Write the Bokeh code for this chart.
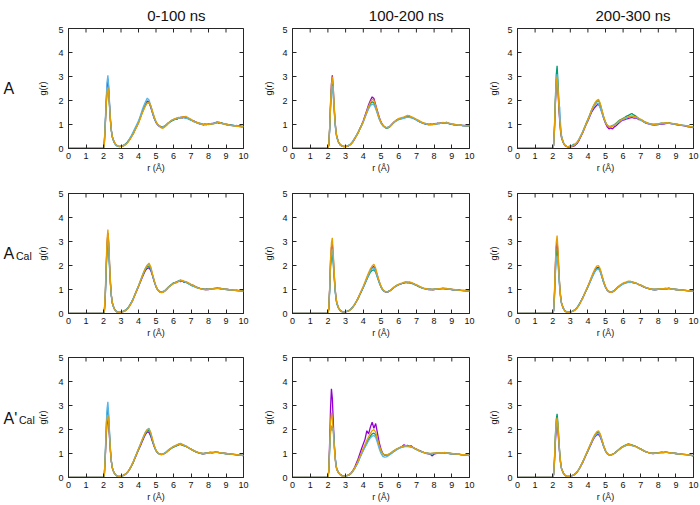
import math
from bokeh.plotting import figure
from bokeh.layouts import gridplot
from bokeh.models import Range1d, FixedTicker
from bokeh.core.properties import value
from bokeh.embed import file_html
from bokeh.resources import INLINE

# ---------------- data ----------------
R = [0.0, 1.95, 2.0, 2.05, 2.1, 2.15, 2.2, 2.25, 2.3, 2.35, 2.4, 2.45, 2.5, 2.6, 2.7, 2.8, 2.9, 3.0,
     3.1, 3.2, 3.3, 3.4, 3.5, 3.6, 3.7, 3.8, 3.9, 4.0,
     4.1, 4.2, 4.3, 4.4, 4.5, 4.6, 4.7, 4.8, 4.9, 5.0,
     5.1, 5.2, 5.3, 5.4, 5.5, 5.6, 5.7, 5.8, 5.9, 6.0,
     6.1, 6.2, 6.3, 6.4, 6.5, 6.6, 6.7, 6.8, 6.9, 7.0,
     7.1, 7.2, 7.3, 7.4, 7.5, 7.6, 7.7, 7.8, 7.9, 8.0,
     8.1, 8.2, 8.3, 8.4, 8.5, 8.6, 8.7, 8.8, 8.9, 9.0,
     9.1, 9.2, 9.3, 9.4, 9.5, 9.6, 9.7, 9.8, 9.9, 10.0]

# Row A, 0-100 ns
A_0_100_purple = [0, 0, 0, 0.25, 0.95, 1.85, 2.55, 2.9, 2.45, 1.75, 1.15, 0.75, 0.5, 0.28, 0.16, 0.1, 0.08, 0.09,
                  0.1, 0.14, 0.2, 0.3, 0.38, 0.5, 0.62, 0.78, 0.92, 1.08,
                  1.3, 1.5, 1.68, 1.82, 1.98, 1.95, 1.72, 1.48, 1.25, 1.08,
                  0.98, 0.92, 0.88, 0.9, 0.93, 0.98, 1.05, 1.12, 1.15, 1.2,
                  1.24, 1.22, 1.28, 1.3, 1.27, 1.32, 1.28, 1.26, 1.22, 1.2,
                  1.15, 1.14, 1.08, 1.07, 1.02, 1.04, 0.98, 1.02, 1.0, 1.03,
                  1.02, 1.05, 1.04, 1.08, 1.1, 1.06, 1.08, 1.04, 1.03, 1.0,
                  0.99, 0.97, 0.98, 0.95, 0.93, 0.96, 0.92, 0.94, 0.9, 0.92]
A_0_100_green = [0, 0, 0, 0.3, 1.0, 1.8, 2.35, 2.6, 2.3, 1.7, 1.12, 0.72, 0.48, 0.26, 0.15, 0.1, 0.09, 0.1,
                 0.12, 0.15, 0.22, 0.28, 0.4, 0.52, 0.65, 0.8, 0.95, 1.1,
                 1.28, 1.48, 1.65, 1.8, 1.92, 1.9, 1.76, 1.52, 1.28, 1.1,
                 1.0, 0.94, 0.9, 0.88, 0.92, 1.0, 1.06, 1.1, 1.16, 1.18,
                 1.22, 1.25, 1.27, 1.28, 1.3, 1.29, 1.3, 1.25, 1.24, 1.18,
                 1.16, 1.12, 1.1, 1.05, 1.06, 1.02, 1.0, 1.01, 0.99, 1.02,
                 1.03, 1.02, 1.06, 1.05, 1.08, 1.09, 1.05, 1.06, 1.02, 1.01,
                 1.0, 0.98, 0.96, 0.97, 0.95, 0.94, 0.95, 0.92, 0.93, 0.91]
A_0_100_cyan = [0, 0, 0, 0.35, 1.1, 2.0, 2.75, 3.05, 2.6, 1.85, 1.2, 0.78, 0.5, 0.27, 0.14, 0.1, 0.08, 0.1,
                0.11, 0.16, 0.2, 0.29, 0.42, 0.55, 0.7, 0.85, 1.0, 1.15,
                1.35, 1.58, 1.78, 1.95, 2.1, 2.02, 1.78, 1.5, 1.26, 1.1,
                0.98, 0.93, 0.87, 0.9, 0.95, 1.0, 1.08, 1.1, 1.18, 1.2,
                1.22, 1.27, 1.26, 1.3, 1.32, 1.28, 1.26, 1.27, 1.2, 1.19,
                1.14, 1.1, 1.09, 1.04, 1.05, 1.0, 1.02, 0.99, 1.01, 1.02,
                1.04, 1.03, 1.05, 1.07, 1.12, 1.07, 1.06, 1.03, 1.04, 0.99,
                0.98, 0.97, 0.95, 0.96, 0.92, 0.95, 0.93, 0.9, 0.92, 0.9]
A_0_100_orange = [0, 0, 0, 0.2, 0.9, 1.75, 2.3, 2.55, 2.25, 1.68, 1.12, 0.74, 0.5, 0.3, 0.17, 0.12, 0.1, 0.1,
                  0.1, 0.13, 0.18, 0.26, 0.36, 0.48, 0.6, 0.75, 0.9, 1.05,
                  1.24, 1.45, 1.62, 1.78, 1.9, 1.92, 1.78, 1.55, 1.32, 1.12,
                  1.0, 0.95, 0.86, 0.84, 0.9, 0.96, 1.04, 1.12, 1.18, 1.22,
                  1.25, 1.28, 1.3, 1.28, 1.33, 1.3, 1.34, 1.3, 1.26, 1.22,
                  1.17, 1.12, 1.1, 1.08, 1.04, 1.03, 1.0, 1.0, 1.02, 1.0,
                  1.02, 1.04, 1.03, 1.06, 1.07, 1.1, 1.06, 1.04, 1.02, 1.03,
                  1.0, 0.97, 0.96, 0.94, 0.95, 0.92, 0.93, 0.91, 0.9, 0.9]

# Row A, 100-200 ns
A_100_200_purple = [0, 0, 0, 0.15, 0.85, 1.9, 2.7, 3.05, 2.55, 1.8, 1.18, 0.75, 0.5, 0.27, 0.15, 0.1, 0.08, 0.08,
                    0.09, 0.13, 0.18, 0.27, 0.38, 0.52, 0.66, 0.82, 0.98, 1.16,
                    1.38, 1.6, 1.82, 2.0, 2.15, 2.08, 1.82, 1.55, 1.3, 1.1,
                    0.98, 0.9, 0.86, 0.88, 0.92, 1.0, 1.08, 1.14, 1.2, 1.24,
                    1.26, 1.24, 1.3, 1.32, 1.3, 1.35, 1.3, 1.28, 1.24, 1.2,
                    1.16, 1.1, 1.08, 1.05, 1.02, 1.03, 0.99, 1.02, 1.0, 1.04,
                    1.03, 1.06, 1.04, 1.07, 1.08, 1.05, 1.08, 1.06, 1.02, 1.01,
                    0.99, 1.0, 0.97, 0.96, 0.98, 0.95, 0.96, 0.94, 0.95, 0.93]
A_100_200_green = [0, 0, 0, 0.15, 0.8, 1.75, 2.45, 2.75, 2.35, 1.7, 1.12, 0.72, 0.48, 0.26, 0.15, 0.11, 0.09, 0.1,
                   0.1, 0.14, 0.2, 0.28, 0.4, 0.52, 0.64, 0.8, 0.95, 1.12,
                   1.32, 1.52, 1.72, 1.86, 1.95, 1.9, 1.72, 1.48, 1.25, 1.08,
                   0.96, 0.9, 0.84, 0.86, 0.9, 0.98, 1.06, 1.12, 1.18, 1.2,
                   1.24, 1.26, 1.28, 1.3, 1.33, 1.32, 1.3, 1.27, 1.22, 1.2,
                   1.14, 1.12, 1.08, 1.06, 1.03, 1.02, 1.0, 1.01, 0.99, 1.02,
                   1.04, 1.03, 1.06, 1.05, 1.07, 1.08, 1.06, 1.05, 1.03, 1.02,
                   1.0, 0.98, 0.98, 0.96, 0.97, 0.95, 0.94, 0.95, 0.93, 0.94]
A_100_200_cyan = [0, 0, 0, 0.15, 0.8, 1.7, 2.35, 2.6, 2.25, 1.65, 1.1, 0.7, 0.46, 0.25, 0.14, 0.1, 0.08, 0.09,
                  0.11, 0.14, 0.2, 0.3, 0.42, 0.54, 0.66, 0.8, 0.96, 1.1,
                  1.3, 1.48, 1.65, 1.78, 1.85, 1.82, 1.66, 1.45, 1.22, 1.05,
                  0.95, 0.88, 0.86, 0.9, 0.92, 1.0, 1.05, 1.12, 1.16, 1.22,
                  1.22, 1.27, 1.26, 1.29, 1.31, 1.3, 1.28, 1.28, 1.23, 1.18,
                  1.15, 1.1, 1.09, 1.04, 1.05, 1.0, 1.01, 1.0, 1.02, 1.0,
                  1.05, 1.02, 1.05, 1.06, 1.09, 1.06, 1.1, 1.04, 1.05, 1.0,
                  1.02, 0.98, 0.99, 0.97, 0.96, 0.97, 0.95, 0.94, 0.94, 0.93]
A_100_200_orange = [0, 0, 0, 0.18, 0.9, 1.85, 2.65, 3.0, 2.6, 1.85, 1.2, 0.76, 0.5, 0.28, 0.16, 0.11, 0.09, 0.09,
                    0.1, 0.13, 0.19, 0.27, 0.39, 0.5, 0.63, 0.8, 0.96, 1.13,
                    1.34, 1.55, 1.76, 1.92, 2.05, 2.0, 1.78, 1.52, 1.28, 1.1,
                    0.97, 0.9, 0.87, 0.86, 0.92, 0.98, 1.08, 1.15, 1.2, 1.25,
                    1.27, 1.3, 1.31, 1.35, 1.38, 1.36, 1.33, 1.3, 1.26, 1.22,
                    1.18, 1.14, 1.1, 1.07, 1.05, 1.03, 1.01, 1.0, 1.02, 1.01,
                    1.03, 1.05, 1.06, 1.05, 1.08, 1.07, 1.06, 1.07, 1.04, 1.03,
                    1.01, 0.99, 0.98, 0.97, 0.98, 0.96, 0.95, 0.96, 0.94, 0.95]

# Row A, 200-300 ns
A_200_300_purple = [0, 0, 0, 0.12, 0.75, 1.8, 2.6, 2.9, 2.4, 1.72, 1.12, 0.7, 0.45, 0.24, 0.12, 0.08, 0.06, 0.07,
                    0.08, 0.1, 0.15, 0.22, 0.35, 0.5, 0.65, 0.82, 1.0, 1.15,
                    1.32, 1.5, 1.62, 1.72, 1.8, 1.85, 1.72, 1.5, 1.25, 1.05,
                    0.9, 0.82, 0.86, 0.82, 0.9, 0.95, 1.02, 1.08, 1.15, 1.18,
                    1.2, 1.24, 1.25, 1.28, 1.3, 1.27, 1.28, 1.25, 1.2, 1.2,
                    1.15, 1.1, 1.06, 1.04, 1.02, 1.0, 0.98, 0.97, 0.99, 1.0,
                    1.02, 1.03, 1.02, 1.04, 1.05, 1.06, 1.04, 1.03, 1.02, 1.0,
                    0.98, 0.97, 0.96, 0.95, 0.94, 0.92, 0.9, 0.9, 0.88, 0.87]
A_200_300_green = [0, 0, 0, 0.15, 0.9, 2.05, 3.05, 3.45, 2.8, 1.95, 1.25, 0.78, 0.5, 0.25, 0.13, 0.09, 0.08, 0.1,
                   0.12, 0.18, 0.16, 0.25, 0.38, 0.52, 0.68, 0.86, 1.05, 1.22,
                   1.4, 1.58, 1.75, 1.88, 1.96, 2.0, 1.85, 1.58, 1.3, 1.1,
                   0.96, 0.9, 0.92, 0.95, 0.98, 1.05, 1.12, 1.18, 1.22, 1.26,
                   1.3, 1.35, 1.38, 1.42, 1.46, 1.4, 1.36, 1.3, 1.24, 1.2,
                   1.16, 1.12, 1.08, 1.06, 1.04, 1.02, 1.0, 1.01, 1.02, 1.03,
                   1.05, 1.06, 1.05, 1.07, 1.06, 1.08, 1.05, 1.04, 1.03, 1.01,
                   1.0, 0.98, 0.97, 0.96, 0.95, 0.94, 0.93, 0.91, 0.9, 0.89]
A_200_300_cyan = [0, 0, 0, 0.12, 0.8, 1.9, 2.8, 3.1, 2.5, 1.9, 1.7, 1.0, 0.55, 0.26, 0.13, 0.09, 0.08, 0.1,
                  0.11, 0.14, 0.2, 0.28, 0.4, 0.55, 0.7, 0.86, 1.02, 1.18,
                  1.36, 1.55, 1.7, 1.82, 1.9, 1.86, 1.7, 1.48, 1.26, 1.08,
                  0.97, 0.92, 0.93, 0.96, 1.0, 1.02, 1.08, 1.12, 1.18, 1.2,
                  1.24, 1.26, 1.3, 1.32, 1.34, 1.3, 1.3, 1.27, 1.22, 1.18,
                  1.14, 1.1, 1.07, 1.05, 1.02, 1.02, 1.0, 0.99, 1.0, 1.02,
                  1.04, 1.05, 1.03, 1.06, 1.07, 1.05, 1.06, 1.03, 1.02, 1.02,
                  1.0, 0.98, 0.98, 0.96, 0.96, 0.94, 0.94, 0.92, 0.91, 0.9]
A_200_300_orange = [0, 0, 0, 0.14, 0.85, 1.95, 2.7, 3.0, 2.5, 1.8, 1.18, 0.74, 0.48, 0.25, 0.13, 0.09, 0.08, 0.09,
                    0.1, 0.13, 0.18, 0.26, 0.38, 0.52, 0.67, 0.84, 1.02, 1.2,
                    1.38, 1.58, 1.76, 1.9, 2.0, 2.05, 1.88, 1.6, 1.32, 1.1,
                    0.97, 0.92, 0.9, 0.92, 0.96, 1.02, 1.1, 1.16, 1.2, 1.24,
                    1.28, 1.3, 1.32, 1.35, 1.36, 1.34, 1.32, 1.3, 1.26, 1.22,
                    1.18, 1.12, 1.1, 1.06, 1.04, 1.03, 1.01, 1.0, 1.02, 1.03,
                    1.04, 1.06, 1.07, 1.06, 1.08, 1.07, 1.06, 1.05, 1.03, 1.02,
                    1.01, 0.99, 0.97, 0.96, 0.95, 0.94, 0.92, 0.91, 0.9, 0.88]

# Row A_Cal, 0-100 ns
ACal_0_100_purple = [0, 0, 0, 0.1, 0.7, 1.8, 2.85, 3.35, 2.9, 2.0, 1.25, 0.75, 0.45, 0.22, 0.1, 0.06, 0.05, 0.06,
                     0.08, 0.1, 0.15, 0.22, 0.33, 0.45, 0.6, 0.78, 0.95, 1.12,
                     1.3, 1.48, 1.65, 1.8, 1.88, 1.9, 1.8, 1.58, 1.32, 1.12,
                     0.98, 0.9, 0.88, 0.9, 0.94, 1.0, 1.08, 1.15, 1.2, 1.26,
                     1.28, 1.3, 1.35, 1.33, 1.36, 1.3, 1.32, 1.28, 1.25, 1.2,
                     1.18, 1.14, 1.1, 1.08, 1.05, 1.04, 1.02, 1.0, 1.01, 1.0,
                     1.02, 1.03, 1.04, 1.05, 1.06, 1.04, 1.05, 1.03, 1.02, 1.01,
                     1.0, 0.99, 0.98, 0.97, 0.96, 0.97, 0.95, 0.95, 0.94, 0.93]
ACal_0_100_green = [0, 0, 0, 0.1, 0.65, 1.7, 2.6, 3.0, 2.6, 1.85, 1.18, 0.72, 0.45, 0.22, 0.11, 0.07, 0.05, 0.07,
                    0.09, 0.12, 0.16, 0.24, 0.35, 0.48, 0.62, 0.8, 0.98, 1.15,
                    1.32, 1.52, 1.7, 1.85, 1.95, 1.98, 1.85, 1.6, 1.35, 1.12,
                    0.98, 0.92, 0.9, 0.88, 0.95, 1.02, 1.1, 1.16, 1.22, 1.28,
                    1.3, 1.33, 1.36, 1.38, 1.35, 1.32, 1.3, 1.26, 1.22, 1.18,
                    1.14, 1.12, 1.1, 1.06, 1.05, 1.02, 1.03, 1.0, 1.01, 1.02,
                    1.03, 1.02, 1.05, 1.04, 1.06, 1.05, 1.03, 1.04, 1.02, 1.0,
                    1.0, 0.98, 0.99, 0.97, 0.96, 0.95, 0.96, 0.94, 0.95, 0.93]
ACal_0_100_cyan = [0, 0, 0, 0.12, 0.75, 1.85, 2.8, 3.15, 2.7, 1.9, 1.2, 0.72, 0.44, 0.2, 0.1, 0.06, 0.05, 0.06,
                   0.08, 0.11, 0.16, 0.23, 0.34, 0.47, 0.62, 0.8, 0.98, 1.16,
                   1.35, 1.55, 1.74, 1.9, 2.02, 2.05, 1.9, 1.62, 1.35, 1.12,
                   0.97, 0.9, 0.88, 0.92, 0.95, 1.02, 1.08, 1.15, 1.2, 1.25,
                   1.3, 1.32, 1.35, 1.4, 1.36, 1.34, 1.3, 1.28, 1.22, 1.2,
                   1.15, 1.12, 1.08, 1.07, 1.04, 1.03, 1.0, 1.02, 0.99, 1.01,
                   1.02, 1.04, 1.03, 1.06, 1.05, 1.07, 1.04, 1.03, 1.01, 1.02,
                   0.99, 0.98, 0.97, 0.98, 0.96, 0.95, 0.94, 0.96, 0.93, 0.92]
ACal_0_100_orange = [0, 0, 0, 0.15, 0.85, 2.0, 3.05, 3.5, 3.0, 2.05, 1.28, 0.78, 0.47, 0.22, 0.1, 0.06, 0.05, 0.06,
                     0.07, 0.1, 0.14, 0.21, 0.32, 0.45, 0.6, 0.78, 0.96, 1.14,
                     1.33, 1.52, 1.72, 1.88, 2.0, 2.1, 1.95, 1.65, 1.38, 1.14,
                     0.98, 0.9, 0.87, 0.88, 0.93, 1.0, 1.08, 1.14, 1.2, 1.25,
                     1.28, 1.3, 1.34, 1.36, 1.38, 1.35, 1.33, 1.3, 1.26, 1.22,
                     1.18, 1.14, 1.1, 1.07, 1.05, 1.03, 1.02, 1.0, 1.0, 1.01,
                     1.03, 1.02, 1.04, 1.05, 1.04, 1.06, 1.05, 1.03, 1.02, 1.01,
                     1.0, 0.99, 0.98, 0.97, 0.97, 0.96, 0.95, 0.94, 0.94, 0.93]

# Row A_Cal, 100-200 ns
ACal_100_200_purple = [0, 0, 0, 0.2, 1.05, 2.2, 2.75, 2.9, 2.4, 1.7, 1.1, 0.7, 0.45, 0.24, 0.12, 0.08, 0.06, 0.07,
                       0.09, 0.12, 0.18, 0.26, 0.36, 0.48, 0.62, 0.78, 0.94, 1.1,
                       1.28, 1.46, 1.64, 1.8, 1.92, 1.95, 1.8, 1.56, 1.32, 1.12,
                       0.98, 0.92, 0.88, 0.9, 0.94, 1.0, 1.06, 1.12, 1.16, 1.2,
                       1.22, 1.25, 1.28, 1.3, 1.28, 1.3, 1.27, 1.25, 1.22, 1.18,
                       1.14, 1.1, 1.08, 1.05, 1.04, 1.02, 1.0, 1.01, 0.99, 1.0,
                       1.02, 1.01, 1.03, 1.04, 1.05, 1.03, 1.04, 1.02, 1.01, 1.0,
                       0.99, 0.98, 0.97, 0.98, 0.96, 0.95, 0.96, 0.94, 0.93, 0.93]
ACal_100_200_green = [0, 0, 0, 0.18, 0.95, 1.95, 2.35, 2.45, 2.1, 1.55, 1.02, 0.66, 0.42, 0.22, 0.12, 0.08, 0.07, 0.08,
                      0.1, 0.13, 0.19, 0.27, 0.37, 0.5, 0.62, 0.78, 0.93, 1.08,
                      1.25, 1.42, 1.58, 1.72, 1.8, 1.82, 1.72, 1.5, 1.28, 1.1,
                      0.98, 0.92, 0.9, 0.92, 0.96, 1.0, 1.06, 1.12, 1.18, 1.2,
                      1.24, 1.26, 1.28, 1.3, 1.3, 1.28, 1.26, 1.24, 1.2, 1.17,
                      1.14, 1.1, 1.07, 1.05, 1.03, 1.02, 1.01, 1.0, 1.0, 1.01,
                      1.02, 1.03, 1.02, 1.04, 1.05, 1.04, 1.03, 1.02, 1.02, 1.0,
                      0.99, 0.98, 0.98, 0.97, 0.96, 0.96, 0.95, 0.94, 0.94, 0.93]
ACal_100_200_cyan = [0, 0, 0, 0.2, 1.0, 2.05, 2.55, 2.7, 2.25, 1.62, 1.06, 0.68, 0.44, 0.23, 0.12, 0.08, 0.06, 0.08,
                     0.1, 0.12, 0.18, 0.26, 0.37, 0.5, 0.64, 0.8, 0.95, 1.1,
                     1.27, 1.45, 1.62, 1.78, 1.88, 1.9, 1.76, 1.52, 1.3, 1.1,
                     0.97, 0.92, 0.89, 0.9, 0.95, 1.01, 1.07, 1.12, 1.16, 1.2,
                     1.23, 1.26, 1.3, 1.29, 1.31, 1.28, 1.28, 1.24, 1.2, 1.18,
                     1.15, 1.1, 1.08, 1.04, 1.04, 1.01, 1.0, 1.02, 1.0, 1.01,
                     1.03, 1.02, 1.04, 1.03, 1.06, 1.04, 1.05, 1.02, 1.02, 1.0,
                     0.99, 0.97, 0.98, 0.96, 0.97, 0.95, 0.94, 0.95, 0.93, 0.92]
ACal_100_200_orange = [0, 0, 0, 0.22, 1.1, 2.3, 2.95, 3.15, 2.55, 1.8, 1.14, 0.72, 0.46, 0.24, 0.12, 0.08, 0.07, 0.08,
                       0.09, 0.12, 0.17, 0.25, 0.36, 0.49, 0.63, 0.8, 0.97, 1.14,
                       1.32, 1.52, 1.7, 1.86, 1.98, 2.05, 1.88, 1.6, 1.34, 1.14,
                       1.0, 0.93, 0.9, 0.91, 0.95, 1.0, 1.08, 1.13, 1.18, 1.22,
                       1.25, 1.27, 1.3, 1.33, 1.31, 1.32, 1.3, 1.27, 1.23, 1.2,
                       1.16, 1.12, 1.09, 1.06, 1.05, 1.03, 1.01, 1.0, 1.01, 1.0,
                       1.02, 1.03, 1.04, 1.05, 1.04, 1.06, 1.04, 1.03, 1.02, 1.01,
                       1.0, 0.99, 0.98, 0.97, 0.96, 0.96, 0.95, 0.94, 0.94, 0.93]

# Row A_Cal, 200-300 ns
ACal_200_300_purple = [0, 0, 0, 0.12, 0.8, 1.95, 2.75, 3.0, 2.5, 1.75, 1.12, 0.7, 0.44, 0.22, 0.1, 0.06, 0.05, 0.07,
                       0.09, 0.12, 0.17, 0.25, 0.36, 0.5, 0.64, 0.8, 0.96, 1.12,
                       1.3, 1.48, 1.66, 1.8, 1.9, 1.92, 1.8, 1.55, 1.3, 1.1,
                       0.97, 0.9, 0.88, 0.9, 0.95, 1.02, 1.1, 1.16, 1.2, 1.25,
                       1.28, 1.3, 1.33, 1.32, 1.3, 1.28, 1.27, 1.24, 1.2, 1.17,
                       1.13, 1.1, 1.07, 1.05, 1.02, 1.01, 1.0, 0.99, 1.0, 1.01,
                       1.02, 1.03, 1.02, 1.04, 1.03, 1.05, 1.03, 1.02, 1.01, 1.0,
                       0.99, 0.98, 0.97, 0.97, 0.96, 0.95, 0.95, 0.94, 0.93, 0.93]
ACal_200_300_green = [0, 0, 0, 0.1, 0.7, 1.75, 2.45, 2.7, 2.3, 1.65, 1.08, 0.68, 0.43, 0.22, 0.11, 0.07, 0.06, 0.07,
                      0.09, 0.13, 0.18, 0.26, 0.38, 0.51, 0.65, 0.8, 0.96, 1.12,
                      1.28, 1.45, 1.62, 1.76, 1.86, 1.88, 1.76, 1.52, 1.28, 1.1,
                      0.98, 0.92, 0.9, 0.92, 0.96, 1.02, 1.08, 1.14, 1.2, 1.24,
                      1.27, 1.3, 1.32, 1.34, 1.32, 1.3, 1.28, 1.25, 1.2, 1.18,
                      1.15, 1.1, 1.08, 1.06, 1.04, 1.02, 1.0, 1.01, 1.0, 1.02,
                      1.03, 1.02, 1.04, 1.05, 1.04, 1.06, 1.04, 1.02, 1.01, 1.0,
                      1.0, 0.98, 0.98, 0.97, 0.96, 0.96, 0.94, 0.95, 0.93, 0.92]
ACal_200_300_cyan = [0, 0, 0, 0.1, 0.65, 1.6, 2.2, 2.4, 2.1, 1.55, 1.02, 0.65, 0.42, 0.21, 0.1, 0.07, 0.06, 0.07,
                     0.09, 0.12, 0.18, 0.26, 0.37, 0.5, 0.64, 0.8, 0.95, 1.1,
                     1.26, 1.44, 1.6, 1.74, 1.84, 1.86, 1.74, 1.52, 1.28, 1.1,
                     0.96, 0.91, 0.89, 0.91, 0.95, 1.01, 1.07, 1.13, 1.18, 1.22,
                     1.25, 1.28, 1.3, 1.31, 1.3, 1.28, 1.27, 1.23, 1.2, 1.17,
                     1.14, 1.1, 1.08, 1.05, 1.03, 1.02, 1.0, 1.0, 1.01, 1.01,
                     1.02, 1.03, 1.03, 1.04, 1.05, 1.04, 1.03, 1.02, 1.01, 1.0,
                     0.99, 0.98, 0.97, 0.97, 0.96, 0.95, 0.95, 0.94, 0.93, 0.92]
ACal_200_300_orange = [0, 0, 0, 0.14, 0.9, 2.1, 2.95, 3.25, 2.7, 1.85, 1.16, 0.72, 0.45, 0.22, 0.1, 0.06, 0.05, 0.06,
                       0.08, 0.11, 0.16, 0.24, 0.35, 0.49, 0.64, 0.81, 0.98, 1.15,
                       1.32, 1.52, 1.7, 1.86, 1.97, 2.0, 1.86, 1.6, 1.34, 1.12,
                       0.98, 0.91, 0.88, 0.9, 0.95, 1.02, 1.1, 1.17, 1.22, 1.27,
                       1.3, 1.32, 1.35, 1.34, 1.32, 1.3, 1.28, 1.25, 1.21, 1.18,
                       1.15, 1.11, 1.08, 1.06, 1.04, 1.02, 1.01, 1.0, 1.01, 1.02,
                       1.03, 1.04, 1.03, 1.05, 1.04, 1.05, 1.03, 1.02, 1.01, 1.0,
                       0.99, 0.98, 0.98, 0.97, 0.96, 0.95, 0.95, 0.94, 0.93, 0.92]

# Row A'_Cal, 0-100 ns
ApCal_0_100_purple = [0, 0, 0, 0.15, 0.8, 1.7, 2.25, 2.45, 2.15, 1.6, 1.05, 0.65, 0.4, 0.2, 0.1, 0.06, 0.05, 0.06,
                      0.08, 0.11, 0.16, 0.24, 0.35, 0.48, 0.62, 0.8, 0.98, 1.15,
                      1.3, 1.48, 1.65, 1.8, 1.9, 1.88, 1.72, 1.5, 1.28, 1.12,
                      1.02, 0.98, 0.96, 0.97, 1.0, 1.05, 1.12, 1.18, 1.24, 1.28,
                      1.3, 1.34, 1.38, 1.4, 1.36, 1.34, 1.3, 1.26, 1.22, 1.18,
                      1.14, 1.1, 1.07, 1.04, 1.02, 1.0, 0.98, 1.0, 1.02, 1.04,
                      1.05, 1.03, 1.05, 1.06, 1.05, 1.04, 1.03, 1.02, 1.01, 1.0,
                      0.99, 0.98, 0.97, 0.96, 0.95, 0.94, 0.93, 0.93, 0.92, 0.91]
ApCal_0_100_green = [0, 0, 0, 0.15, 0.85, 1.95, 2.65, 2.9, 2.45, 1.75, 1.1, 0.68, 0.42, 0.2, 0.1, 0.06, 0.05, 0.06,
                     0.08, 0.12, 0.17, 0.25, 0.36, 0.5, 0.65, 0.82, 1.0, 1.18,
                     1.34, 1.52, 1.7, 1.85, 1.95, 1.95, 1.78, 1.52, 1.3, 1.12,
                     1.02, 0.97, 0.95, 0.98, 1.02, 1.06, 1.12, 1.18, 1.22, 1.27,
                     1.3, 1.33, 1.36, 1.38, 1.35, 1.32, 1.3, 1.26, 1.22, 1.18,
                     1.13, 1.1, 1.06, 1.04, 1.02, 1.0, 0.99, 1.01, 1.02, 1.03,
                     1.04, 1.05, 1.04, 1.06, 1.05, 1.04, 1.03, 1.02, 1.0, 0.99,
                     0.99, 0.97, 0.97, 0.96, 0.95, 0.95, 0.94, 0.93, 0.92, 0.92]
ApCal_0_100_cyan = [0, 0, 0, 0.18, 0.95, 2.1, 2.85, 3.15, 2.6, 1.82, 1.14, 0.7, 0.42, 0.2, 0.1, 0.05, 0.04, 0.05,
                    0.07, 0.1, 0.16, 0.24, 0.36, 0.5, 0.66, 0.84, 1.02, 1.2,
                    1.38, 1.56, 1.74, 1.9, 2.0, 2.05, 1.85, 1.58, 1.32, 1.12,
                    1.02, 0.98, 0.97, 0.98, 1.02, 1.08, 1.15, 1.2, 1.25, 1.3,
                    1.33, 1.36, 1.4, 1.42, 1.38, 1.35, 1.32, 1.28, 1.22, 1.18,
                    1.15, 1.11, 1.08, 1.05, 1.02, 1.01, 1.0, 1.01, 1.02, 1.04,
                    1.06, 1.05, 1.04, 1.06, 1.07, 1.05, 1.04, 1.03, 1.02, 1.0,
                    0.99, 0.98, 0.97, 0.97, 0.96, 0.95, 0.94, 0.93, 0.92, 0.91]
ApCal_0_100_orange = [0, 0, 0, 0.14, 0.8, 1.8, 2.4, 2.6, 2.25, 1.65, 1.06, 0.66, 0.41, 0.2, 0.1, 0.06, 0.05, 0.06,
                      0.08, 0.11, 0.17, 0.25, 0.36, 0.5, 0.65, 0.82, 1.0, 1.18,
                      1.35, 1.54, 1.72, 1.88, 1.98, 2.02, 1.88, 1.6, 1.33, 1.13,
                      1.03, 0.97, 0.95, 0.96, 1.0, 1.06, 1.12, 1.18, 1.24, 1.29,
                      1.32, 1.36, 1.38, 1.4, 1.38, 1.34, 1.31, 1.27, 1.22, 1.18,
                      1.14, 1.1, 1.07, 1.05, 1.03, 1.01, 1.0, 1.0, 1.02, 1.03,
                      1.04, 1.04, 1.05, 1.05, 1.06, 1.04, 1.03, 1.02, 1.01, 1.0,
                      0.99, 0.98, 0.97, 0.96, 0.96, 0.95, 0.94, 0.93, 0.92, 0.91]

# Row A'_Cal, 100-200 ns
ApCal_100_200_purple = [0, 0, 0, 0.3, 1.5, 2.9, 3.7, 3.3, 2.4, 1.5, 0.9, 0.55, 0.35, 0.2, 0.12, 0.08, 0.06, 0.07,
                        0.09, 0.12, 0.18, 0.28, 0.4, 0.58, 0.76, 0.98, 1.2, 1.4,
                        1.6, 1.95, 1.82, 2.1, 2.3, 2.05, 2.25, 1.85, 1.45, 1.18,
                        1.0, 0.94, 0.92, 0.95, 0.98, 1.02, 1.08, 1.12, 1.18, 1.22,
                        1.26, 1.3, 1.36, 1.32, 1.34, 1.3, 1.32, 1.26, 1.22, 1.18,
                        1.14, 1.12, 1.08, 1.05, 1.02, 1.0, 0.98, 0.96, 0.9, 0.98,
                        1.0, 1.02, 1.03, 1.01, 1.04, 1.02, 1.03, 1.01, 1.0, 0.99,
                        0.98, 0.98, 0.96, 0.97, 0.95, 0.94, 0.95, 0.93, 0.92, 0.91]
ApCal_100_200_green = [0, 0, 0, 0.25, 1.2, 1.95, 2.15, 2.0, 2.1, 1.55, 0.95, 0.58, 0.36, 0.2, 0.12, 0.08, 0.06, 0.07,
                       0.08, 0.11, 0.16, 0.25, 0.36, 0.5, 0.64, 0.82, 1.0, 1.16,
                       1.3, 1.45, 1.6, 1.72, 1.82, 1.85, 1.78, 1.55, 1.3, 1.1,
                       0.98, 0.93, 0.92, 0.95, 0.99, 1.04, 1.1, 1.14, 1.18, 1.22,
                       1.25, 1.28, 1.3, 1.32, 1.3, 1.3, 1.28, 1.25, 1.2, 1.17,
                       1.13, 1.1, 1.07, 1.05, 1.03, 1.01, 1.0, 0.98, 0.99, 1.0,
                       1.01, 1.02, 1.01, 1.03, 1.02, 1.03, 1.02, 1.01, 1.0, 0.99,
                       0.98, 0.97, 0.97, 0.96, 0.95, 0.95, 0.94, 0.93, 0.92, 0.92]
ApCal_100_200_cyan = [0, 0, 0, 0.25, 1.15, 1.9, 2.15, 1.95, 2.05, 1.5, 0.92, 0.56, 0.35, 0.2, 0.11, 0.07, 0.06, 0.07,
                      0.08, 0.11, 0.16, 0.24, 0.35, 0.48, 0.62, 0.8, 0.96, 1.12,
                      1.26, 1.4, 1.54, 1.65, 1.72, 1.75, 1.68, 1.45, 1.2, 1.0,
                      0.88, 0.85, 0.86, 0.9, 0.95, 1.0, 1.06, 1.12, 1.16, 1.2,
                      1.23, 1.26, 1.28, 1.3, 1.29, 1.28, 1.27, 1.24, 1.2, 1.17,
                      1.13, 1.1, 1.07, 1.04, 1.02, 1.01, 1.0, 0.99, 1.0, 1.01,
                      1.02, 1.02, 1.03, 1.02, 1.03, 1.02, 1.01, 1.01, 1.0, 0.99,
                      0.98, 0.97, 0.96, 0.96, 0.95, 0.94, 0.94, 0.93, 0.92, 0.91]
ApCal_100_200_orange = [0, 0, 0, 0.28, 1.3, 2.3, 2.7, 2.45, 1.95, 1.35, 0.85, 0.52, 0.33, 0.19, 0.11, 0.07, 0.06, 0.07,
                        0.09, 0.12, 0.17, 0.26, 0.38, 0.52, 0.68, 0.86, 1.04, 1.22,
                        1.38, 1.55, 1.7, 1.84, 1.95, 2.0, 1.88, 1.6, 1.34, 1.12,
                        0.99, 0.94, 0.93, 0.96, 1.0, 1.05, 1.1, 1.16, 1.2, 1.24,
                        1.27, 1.3, 1.32, 1.33, 1.32, 1.3, 1.29, 1.26, 1.22, 1.18,
                        1.14, 1.1, 1.08, 1.05, 1.03, 1.02, 1.0, 1.0, 1.01, 1.02,
                        1.03, 1.03, 1.02, 1.04, 1.03, 1.05, 1.03, 1.02, 1.01, 1.0,
                        0.99, 0.98, 0.97, 0.97, 0.96, 0.95, 0.95, 0.94, 0.93, 0.92]

# Row A'_Cal, 200-300 ns
ApCal_200_300_purple = [0, 0, 0, 0.1, 0.62, 1.45, 2.0, 2.2, 1.92, 1.42, 0.95, 0.6, 0.38, 0.19, 0.09, 0.06, 0.05, 0.06,
                        0.08, 0.11, 0.16, 0.24, 0.35, 0.48, 0.62, 0.78, 0.95, 1.1,
                        1.26, 1.42, 1.58, 1.7, 1.78, 1.8, 1.7, 1.5, 1.28, 1.1,
                        0.99, 0.94, 0.93, 0.96, 1.0, 1.06, 1.12, 1.18, 1.24, 1.28,
                        1.32, 1.35, 1.38, 1.36, 1.34, 1.32, 1.3, 1.26, 1.22, 1.18,
                        1.14, 1.1, 1.07, 1.05, 1.03, 1.01, 1.0, 1.01, 1.02, 1.03,
                        1.04, 1.05, 1.04, 1.06, 1.05, 1.04, 1.03, 1.02, 1.01, 1.0,
                        0.99, 0.98, 0.97, 0.96, 0.95, 0.95, 0.94, 0.93, 0.92, 0.9]
ApCal_200_300_green = [0, 0, 0, 0.12, 0.75, 1.75, 2.4, 2.65, 2.25, 1.6, 1.02, 0.62, 0.38, 0.19, 0.09, 0.05, 0.05, 0.06,
                       0.08, 0.11, 0.16, 0.24, 0.36, 0.5, 0.64, 0.8, 0.97, 1.13,
                       1.3, 1.47, 1.63, 1.76, 1.86, 1.9, 1.78, 1.55, 1.3, 1.12,
                       1.0, 0.95, 0.94, 0.97, 1.01, 1.07, 1.13, 1.2, 1.26, 1.3,
                       1.34, 1.37, 1.4, 1.38, 1.36, 1.33, 1.3, 1.27, 1.22, 1.19,
                       1.15, 1.1, 1.08, 1.05, 1.03, 1.02, 1.01, 1.02, 1.03, 1.04,
                       1.05, 1.06, 1.05, 1.06, 1.05, 1.04, 1.03, 1.02, 1.01, 1.0,
                       0.99, 0.98, 0.97, 0.96, 0.96, 0.95, 0.94, 0.93, 0.91, 0.9]
ApCal_200_300_cyan = [0, 0, 0, 0.11, 0.7, 1.6, 2.15, 2.35, 2.05, 1.5, 0.98, 0.6, 0.37, 0.19, 0.09, 0.05, 0.05, 0.06,
                      0.08, 0.11, 0.16, 0.24, 0.35, 0.49, 0.63, 0.79, 0.96, 1.12,
                      1.28, 1.44, 1.6, 1.73, 1.82, 1.85, 1.74, 1.52, 1.28, 1.1,
                      0.98, 0.94, 0.93, 0.96, 1.0, 1.05, 1.12, 1.18, 1.23, 1.27,
                      1.31, 1.34, 1.36, 1.35, 1.33, 1.31, 1.29, 1.25, 1.21, 1.18,
                      1.14, 1.1, 1.07, 1.05, 1.03, 1.01, 1.0, 1.01, 1.02, 1.03,
                      1.04, 1.05, 1.04, 1.05, 1.05, 1.04, 1.03, 1.02, 1.01, 1.0,
                      0.99, 0.98, 0.97, 0.96, 0.95, 0.95, 0.94, 0.93, 0.92, 0.91]
ApCal_200_300_orange = [0, 0, 0, 0.12, 0.72, 1.68, 2.28, 2.5, 2.15, 1.55, 1.0, 0.61, 0.38, 0.19, 0.09, 0.05, 0.05, 0.06,
                        0.08, 0.11, 0.17, 0.25, 0.36, 0.5, 0.65, 0.81, 0.98, 1.15,
                        1.32, 1.49, 1.66, 1.8, 1.9, 1.95, 1.82, 1.58, 1.32, 1.12,
                        1.0, 0.95, 0.93, 0.96, 1.0, 1.06, 1.13, 1.19, 1.25, 1.29,
                        1.33, 1.36, 1.39, 1.37, 1.35, 1.32, 1.3, 1.26, 1.22, 1.18,
                        1.15, 1.1, 1.08, 1.05, 1.03, 1.02, 1.01, 1.01, 1.02, 1.03,
                        1.04, 1.05, 1.05, 1.06, 1.05, 1.04, 1.03, 1.02, 1.01, 1.0,
                        0.99, 0.98, 0.97, 0.96, 0.96, 0.95, 0.94, 0.93, 0.92, 0.9]

COL_TITLES = ["0-100 ns", "100-200 ns", "200-300 ns"]
ROW_NAMES = ["A", "A", "A'"]
ROW_SUBS = ["", "Cal", "Cal"]
SERIES_COLORS = ["#9400D3", "#009E73", "#56B4E9", "#E69F00"]
X_TICKS = [0, 1, 2, 3, 4, 5, 6, 7, 8, 9, 10]
Y_TICKS = [0, 1, 2, 3, 4, 5]
X_LABEL = "r (Å)"
Y_LABEL = "g(r)"

PANELS = [
    [[A_0_100_purple, A_0_100_green, A_0_100_cyan, A_0_100_orange],
     [A_100_200_purple, A_100_200_green, A_100_200_cyan, A_100_200_orange],
     [A_200_300_purple, A_200_300_green, A_200_300_cyan, A_200_300_orange]],
    [[ACal_0_100_purple, ACal_0_100_green, ACal_0_100_cyan, ACal_0_100_orange],
     [ACal_100_200_purple, ACal_100_200_green, ACal_100_200_cyan, ACal_100_200_orange],
     [ACal_200_300_purple, ACal_200_300_green, ACal_200_300_cyan, ACal_200_300_orange]],
    [[ApCal_0_100_purple, ApCal_0_100_green, ApCal_0_100_cyan, ApCal_0_100_orange],
     [ApCal_100_200_purple, ApCal_100_200_green, ApCal_100_200_cyan, ApCal_100_200_orange],
     [ApCal_200_300_purple, ApCal_200_300_green, ApCal_200_300_cyan, ApCal_200_300_orange]],
]

# ---------------- layout ----------------
FONT = "Liberation Sans"
INK = "#262626"
TXT = "#111111"
LABEL_COL_W = 35
COL_LEFT = [32, 37, 37]
FRAME_W = [176, 177, 176]
COL_RIGHT = [12, 11, 6]
COL_W = [COL_LEFT[k] + FRAME_W[k] + COL_RIGHT[k] for k in range(3)]
YLAB_STANDOFF = [7, 5, 5]
TITLE_ROW_H = 26
TITLE_LEFT = [99, 97, 97]      # left edge of each column title inside its strip
ROW_TOP = [2, 15, 14]
FRAME_H = 120
ROW_BOTTOM = [30, 30, 27]
ROW_H = [ROW_TOP[k] + FRAME_H + ROW_BOTTOM[k] for k in range(3)]
ROW_LABEL_DROP = [7, 0, 0]     # extra downward nudge of the row label, px


def blank_fig(w, h):
    f = figure(width=w, height=h, x_range=Range1d(0, w), y_range=Range1d(0, h),
               output_backend="svg", toolbar_location=None, tools="",
               min_border=0, min_border_left=0, min_border_right=0,
               min_border_top=0, min_border_bottom=0)
    f.axis.visible = False
    f.grid.visible = False
    f.outline_line_color = None
    return f


def style_axis(ax, ticks, standoff, label_standoff):
    ax.ticker = FixedTicker(ticks=ticks)
    ax.major_tick_in = 4
    ax.major_tick_out = 0
    ax.minor_tick_line_color = None
    ax.axis_line_color = INK
    ax.major_tick_line_color = INK
    ax.major_label_text_font = FONT
    ax.major_label_text_font_size = "9px"
    ax.major_label_text_color = TXT
    ax.major_label_standoff = standoff
    ax.axis_label_text_font = FONT
    ax.axis_label_text_font_size = "9px"
    ax.axis_label_text_font_style = "normal"
    ax.axis_label_text_color = TXT
    ax.axis_label_standoff = label_standoff


grid_rows = []

# title row (corner cell is an empty strip)
title_row = [blank_fig(LABEL_COL_W, TITLE_ROW_H)]
for j in range(3):
    t = blank_fig(COL_W[j], TITLE_ROW_H)
    t.text(x=[TITLE_LEFT[j]], y=[TITLE_ROW_H - 15], text=[COL_TITLES[j]],
           text_align="left", text_baseline="alphabetic",
           text_font=value(FONT), text_font_size="15px", text_color=TXT)
    title_row.append(t)
grid_rows.append(title_row)

for i in range(3):
    row = []
    # row label figure
    lf = blank_fig(LABEL_COL_W, ROW_H[i])
    base_y = ROW_H[i] - ROW_TOP[i] - FRAME_H / 2 - 7.5 - ROW_LABEL_DROP[i]
    lf.text(x=[3], y=[base_y], text=[ROW_NAMES[i]], text_align="left",
            text_baseline="alphabetic", text_font=value(FONT),
            text_font_size="16px", text_color=TXT)
    if ROW_SUBS[i]:
        sub_x = 15.5 if ROW_NAMES[i] == "A" else 18.5
        lf.text(x=[sub_x], y=[base_y - 3], text=[ROW_SUBS[i]], text_align="left",
                text_baseline="alphabetic", text_font=value(FONT),
                text_font_size="10.5px", text_color=TXT)
    row.append(lf)

    for j in range(3):
        p = figure(width=COL_W[j], height=ROW_H[i],
                   x_range=Range1d(0, 10), y_range=Range1d(0, 5),
                   output_backend="svg", toolbar_location=None, tools="",
                   min_border_left=COL_LEFT[j], min_border_right=COL_RIGHT[j],
                   min_border_top=ROW_TOP[i], min_border_bottom=ROW_BOTTOM[i],
                   x_axis_label=X_LABEL, y_axis_label=Y_LABEL)
        p.grid.visible = False
        p.outline_line_color = INK
        p.outline_line_width = 1
        style_axis(p.xaxis[0], X_TICKS, 4, 1)
        style_axis(p.yaxis[0], Y_TICKS, 5, YLAB_STANDOFF[j])

        for ys, c in zip(PANELS[i][j], SERIES_COLORS):
            p.line(R, ys, line_color=c, line_width=1.3)

        # mirrored inward ticks on the top and right frame edges
        p.scatter(x=X_TICKS, y=[5] * len(X_TICKS), marker="dash", size=8,
                  angle=math.pi / 2, line_color=INK, line_width=1)
        p.scatter(x=[10] * len(Y_TICKS), y=Y_TICKS, marker="dash", size=8,
                  angle=0, line_color=INK, line_width=1)
        row.append(p)
    grid_rows.append(row)

grid = gridplot(grid_rows, toolbar_location=None)

open("out.html", "w").write(file_html(grid, INLINE))
